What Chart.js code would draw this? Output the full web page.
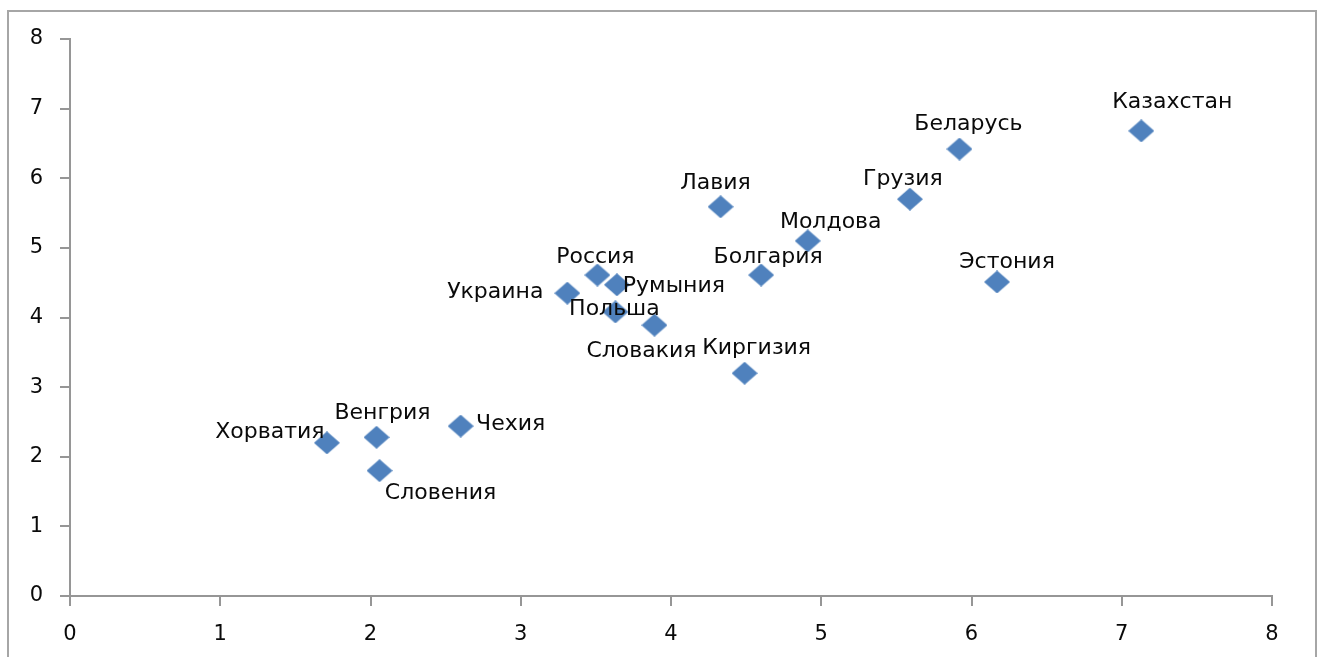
<!DOCTYPE html>
<html>
<head>
<meta charset="utf-8">
<script src="https://cdn.jsdelivr.net/npm/chart.js@4.4.1/dist/chart.umd.min.js"></script>
<style>
  html, body { margin: 0; padding: 0; background: #fff; overflow: hidden; }
  #frame {
    position: absolute; left: 7px; top: 10px; width: 1306px; height: 700px;
    border: 2px solid #a6a6a6; box-sizing: content-box;
  }
  #wrap { position: absolute; left: 0; top: 0; width: 1321px; height: 657px; }
</style>
</head>
<body>
<div id="frame"></div>
<div id="wrap"><canvas id="id-chartCountries"></canvas></div>
<script>
// data
var countryNames = ["Казахстан", "Беларусь", "Грузия", "Лавия", "Молдова", "Эстония",
  "Болгария", "Россия", "Румыния", "Украина", "Польша", "Словакия", "Киргизия",
  "Чехия", "Венгрия", "Хорватия", "Словения"];
var countryX = [7.13, 5.92, 5.59, 4.33, 4.91, 6.17, 4.60, 3.51, 3.64, 3.31, 3.63, 3.89, 4.49, 2.60, 2.04, 1.71, 2.06];
var countryY = [6.68, 6.42, 5.70, 5.59, 5.10, 4.51, 4.61, 4.61, 4.47, 4.35, 4.08, 3.89, 3.20, 2.44, 2.28, 2.20, 1.80];
var axisTicks = [0, 1, 2, 3, 4, 5, 6, 7, 8];

// label placement (px from the point to the text centre), same order as countryNames
var labelDx = [31, 9, -7, -5, 23, 10, 7, -2, 57, -72, -1, -13, 12, 50, 6, -57, 61];
var labelDy = [-29, -25, -20, -24, -19, -20, -18, -18, 2, -1, -3, 26, -25, -2, -24, -11, 23];

var markerColor = "#4F81BD";
var axisColor = "#969696";
var textColor = "#0a0a0a";
var fontFamily = "'DejaVu Sans', Verdana, sans-serif";

// diamond marker, a bit wider than tall
var marker = document.createElement("canvas");
marker.width = 26; marker.height = 23;
(function() {
  var c = marker.getContext("2d");
  c.fillStyle = markerColor;
  c.beginPath();
  c.moveTo(13, 0); c.lineTo(26, 11.5); c.lineTo(13, 23); c.lineTo(0, 11.5);
  c.closePath();
  c.fill();
})();

var points = countryX.map(function(x, i) { return {x: x, y: countryY[i]}; });

var pointLabels = {
  id: "pointLabels",
  afterDatasetsDraw: function(chart) {
    var ctx = chart.ctx;
    var meta = chart.getDatasetMeta(0);
    ctx.save();
    ctx.font = "22px " + fontFamily;
    ctx.fillStyle = textColor;
    ctx.textAlign = "center";
    ctx.textBaseline = "middle";
    meta.data.forEach(function(pt, i) {
      ctx.fillText(countryNames[i], pt.x + labelDx[i], pt.y + labelDy[i]);
    });
    ctx.restore();
  }
};

function tickSetup(axis) {
  axis.ticks = axisTicks.map(function(v) { return {value: v}; });
}

// ----------------------------- chart start -----------------------------
new Chart("id-chartCountries", {
  type: "scatter",
  data: {
    datasets: [{
      data: points,
      pointStyle: marker,
      pointRadius: 12,
      pointHoverRadius: 12,
      backgroundColor: markerColor,
      borderWidth: 0
    }]
  },
  options: {
    responsive: true,
    maintainAspectRatio: false,
    animation: false,
    events: [],
    layout: {padding: {top: 39, right: 49, bottom: 0, left: 0}},
    plugins: {legend: {display: false}, tooltip: {enabled: false}},
    scales: {
      x: {
        type: "linear",
        min: 0, max: 8,
        afterBuildTicks: tickSetup,
        afterFit: function(s) { s.height = 61; },
        grid: {drawOnChartArea: false, drawTicks: true, tickLength: 10, color: axisColor, lineWidth: 2},
        border: {color: axisColor, width: 2},
        ticks: {color: textColor, padding: 16, font: {family: fontFamily, size: 21}}
      },
      y: {
        type: "linear",
        min: 0, max: 8,
        afterBuildTicks: tickSetup,
        afterFit: function(s) { s.width = 70; },
        grid: {drawOnChartArea: false, drawTicks: true, tickLength: 10, color: axisColor, lineWidth: 2},
        border: {color: axisColor, width: 2},
        ticks: {color: textColor, padding: 17, font: {family: fontFamily, size: 21}}
      }
    }
  },
  plugins: [pointLabels]
});
// ----------------------------- chart end -----------------------------
</script>
</body>
</html>
